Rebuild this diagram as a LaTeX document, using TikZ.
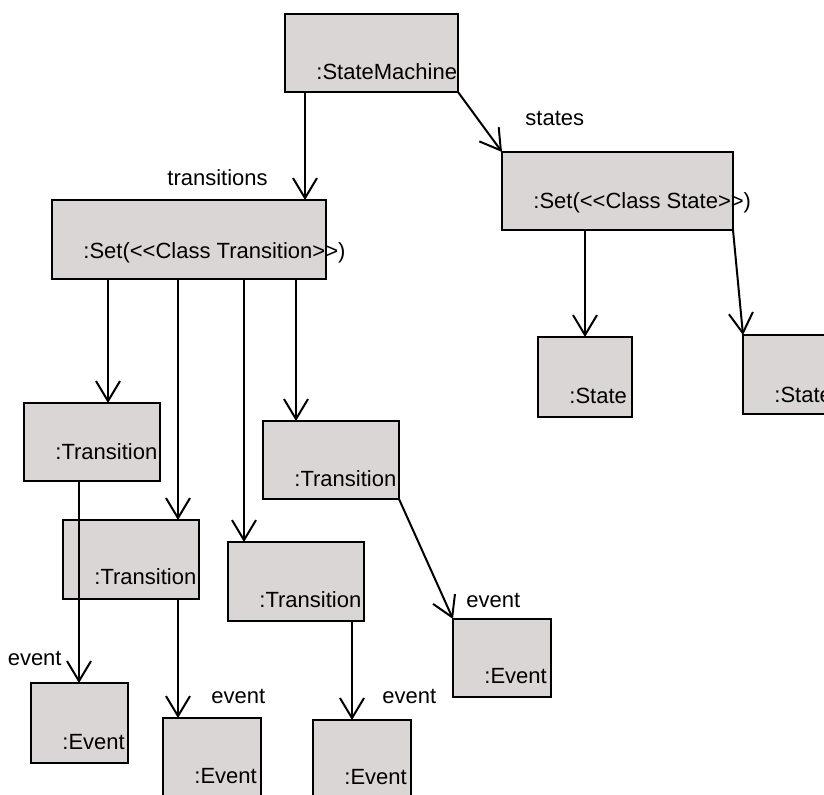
\documentclass[tikz,border=0pt]{standalone}
\usepackage{fontspec}
\setmainfont{Liberation Sans}
\usetikzlibrary{arrows.meta,calc}
\definecolor{boxgray}{RGB}{219,214,214}
\tikzset{
  objbox/.style={draw=black, fill=boxgray, line width=1pt, anchor=north west, inner sep=0pt, outer sep=0pt},
  objtext/.style={anchor=base west, inner sep=0pt, font=\fontsize{11}{13}\selectfont},
  rolelabel/.style={anchor=base west, inner sep=0pt, font=\fontsize{11}{13}\selectfont},
  link/.style={line width=1pt, -{Straight Barb[length=10pt,width=12pt]}},
}
\begin{document}
\begin{tikzpicture}[x=0.5pt, y=-0.5pt]
\clip (0,0) rectangle (824,794);
% boxes
\node[objbox, minimum width=86.5pt, minimum height=39pt] (SM) at (285,14) {};
\node[objtext] (SMt) at (316,79) {:StateMachine};
\node[objbox, minimum width=137pt, minimum height=39.5pt] (SetT) at (52,200) {};
\node[objtext] (SetTt) at (83,258) {:Set({<}{<}Class Transition{>}{>})};
\node[objbox, minimum width=115.5pt, minimum height=39pt] (SetS) at (502,152) {};
\node[objtext] (SetSt) at (533,208) {:Set({<}{<}Class State{>}{>})};
\node[objbox, minimum width=47pt, minimum height=40pt] (S1) at (538,337) {};
\node[objtext] (S1t) at (569,403) {:State};
\node[objbox, minimum width=63.5pt, minimum height=39.5pt] (S2) at (743,335) {};
\node[objtext] (S2t) at (774,402) {:State};
\node[objbox, minimum width=68pt, minimum height=39pt] (T1) at (24,403) {};
\node[objtext] (T1t) at (55,459) {:Transition};
\node[objbox, minimum width=68pt, minimum height=39.5pt] (T2) at (63,520) {};
\node[objtext] (T2t) at (94,584) {:Transition};
\node[objbox, minimum width=68pt, minimum height=39.5pt] (T3) at (228,542) {};
\node[objtext] (T3t) at (259,607) {:Transition};
\node[objbox, minimum width=68pt, minimum height=39pt] (T4) at (263,421) {};
\node[objtext] (T4t) at (294,486) {:Transition};
\node[objbox, minimum width=49pt, minimum height=39pt] (E4) at (453,619) {};
\node[objtext] (E4t) at (484,683) {:Event};
\node[objbox, minimum width=48.5pt, minimum height=40pt] (E1) at (31,683) {};
\node[objtext] (E1t) at (62,749) {:Event};
\node[objbox, minimum width=49pt, minimum height=46pt] (E2) at (163,718) {};
\node[objtext] (E2t) at (194,783) {:Event};
\node[objbox, minimum width=49pt, minimum height=45pt] (E3) at (313,720) {};
\node[objtext] (E3t) at (344,784) {:Event};
% role labels
\node[rolelabel] (Ltr) at (167,185) {transitions};
\node[rolelabel] (Lst) at (525,125) {states};
\node[rolelabel, anchor=base east] (Le1) at (62,665) {event};
\node[rolelabel] (Le2) at (211,703) {event};
\node[rolelabel] (Le3) at (382,703) {event};
\node[rolelabel] (Le4) at (466,607) {event};
% connectors
\draw[link] ($(SM.south west)+(20,0)$) -- ($(SetT.north west)+(253,0)$);
\draw[link] (SM.south east) -- (SetS.north west);
\draw[link] ($(SetT.south west)+(56,0)$) -- ($(T1.north west)+(84,0)$);
\draw[link] ($(SetT.south west)+(126,0)$) -- ($(T2.north west)+(115,0)$);
\draw[link] ($(SetT.south west)+(192,0)$) -- ($(T3.north west)+(16,0)$);
\draw[link] ($(SetT.south west)+(244,0)$) -- ($(T4.north west)+(33,0)$);
\draw[link] ($(SetS.south west)+(83,0)$) -- ($(S1.north west)+(47,0)$);
\draw[link] (SetS.south east) -- (S2.north west);
\draw[link] ($(T1.south west)+(55,0)$) -- ($(E1.north west)+(48,0)$);
\draw[link] ($(T2.south west)+(115,0)$) -- ($(E2.north west)+(15,0)$);
\draw[link] ($(T3.south west)+(124,0)$) -- ($(E3.north west)+(39,0)$);
\draw[link] (T4.south east) -- (E4.north west);
\end{tikzpicture}
\end{document}
